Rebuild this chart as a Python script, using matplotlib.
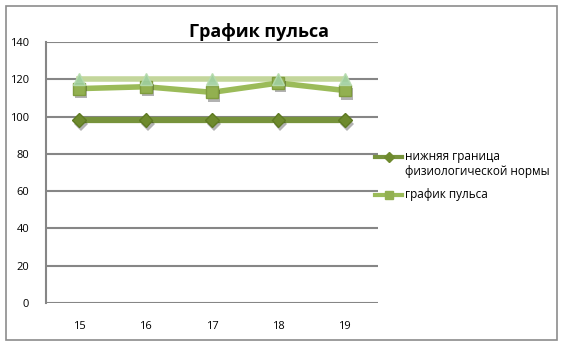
import matplotlib
matplotlib.use("Agg")
import matplotlib.pyplot as plt
import matplotlib.patheffects as pe
from matplotlib.patches import Rectangle
from matplotlib.lines import Line2D

days = ["15", "16", "17", "18", "19"]
lower_norm = [98, 98, 98, 98, 98]
pulse = [115, 116, 113, 118, 114]
upper_norm = [120, 120, 120, 120, 120]
y_ticks = [0, 20, 40, 60, 80, 100, 120, 140]
legend_labels = ["нижняя граница\nфизиологической нормы", "график пульса"]

plt.rcParams["font.family"] = ["Open Sans", "DejaVu Sans"]

W, H = 563, 346
fig = plt.figure(figsize=(W / 100, H / 100), dpi=100)
fig.patch.set_facecolor("white")

def fx(px):
    return px / W

def fy(py):
    return 1 - py / H

# chart frame
fig.add_artist(Rectangle((fx(6), fy(340)), (557 - 6) / W, (340 - 6) / H,
                         transform=fig.transFigure, fill=False,
                         edgecolor="#8c8c8c", linewidth=1.2))

ax = fig.add_axes([fx(46), fy(303), (378 - 46) / W, (303 - 42) / H])
x = list(range(len(days)))

grid_c = "#868686"
for v in y_ticks:
    ax.axhline(v, color=grid_c, linewidth=1.5, zorder=1)

shadow = [pe.SimplePatchShadow(offset=(1.5, -2.5), shadow_rgbFace="black", alpha=0.3),
          pe.Normal()]

lower_c, lower_m = "#77933c", "#6e8a2e"
pulse_c, pulse_m = "#9bbb59", "#92b050"

ax.plot(x, upper_norm, color="#c3d69b", linewidth=4, zorder=2)
ax.plot(x, upper_norm, linestyle="none", marker="^", markersize=8,
        markerfacecolor="#9fcf9f", markeredgecolor="#b7dcae", zorder=6,
        alpha=0.9)

ax.plot(x, pulse, color=pulse_c, linewidth=4, zorder=4)
ax.plot(x, pulse, linestyle="none", marker="s", markersize=8.5,
        markerfacecolor=pulse_m, markeredgecolor="#7f9c3e", zorder=5,
        path_effects=shadow)

ax.plot(x, lower_norm, color=lower_c, linewidth=4.5, zorder=4)
ax.plot(x, lower_norm, linestyle="none", marker="D", markersize=7,
        markerfacecolor=lower_m, markeredgecolor="#5e7a22", zorder=5,
        path_effects=shadow)

ax.set_xlim(-0.5, len(days) - 0.5)
ax.set_ylim(0, 140)
ax.set_xticks(x)
ax.set_xticklabels(days)
ax.set_yticks(y_ticks)
ax.tick_params(length=0, labelsize=8, colors="black")
ax.tick_params(axis="y", pad=12)
ax.tick_params(axis="x", pad=13)
for s in ["top", "right", "bottom"]:
    ax.spines[s].set_visible(False)
ax.spines["left"].set_color(grid_c)
ax.spines["left"].set_linewidth(1.5)

# legend: handle sits level with the first text line of each entry
entries = [(legend_labels[0], lower_c, lower_m, "D", 5, 157),
           (legend_labels[1], pulse_c, pulse_m, "s", 6, 195)]
for text, lc, mc, mk, ms, py in entries:
    fig.add_artist(Line2D([fx(375), fx(402)], [fy(py), fy(py)],
                          transform=fig.transFigure, color=lc, linewidth=3))
    fig.add_artist(Line2D([fx(388.5)], [fy(py)], transform=fig.transFigure,
                          linestyle="none", marker=mk, markersize=ms,
                          markerfacecolor=mc, markeredgecolor=mc))
    fig.text(fx(405), fy(py - 7), text, ha="left", va="top",
             fontsize=8.5, linespacing=1.2)

fig.text(fx(259), fy(32), "График пульса", ha="center", va="center",
         fontsize=13, fontweight="bold")

fig.savefig("out.png", dpi=100)
